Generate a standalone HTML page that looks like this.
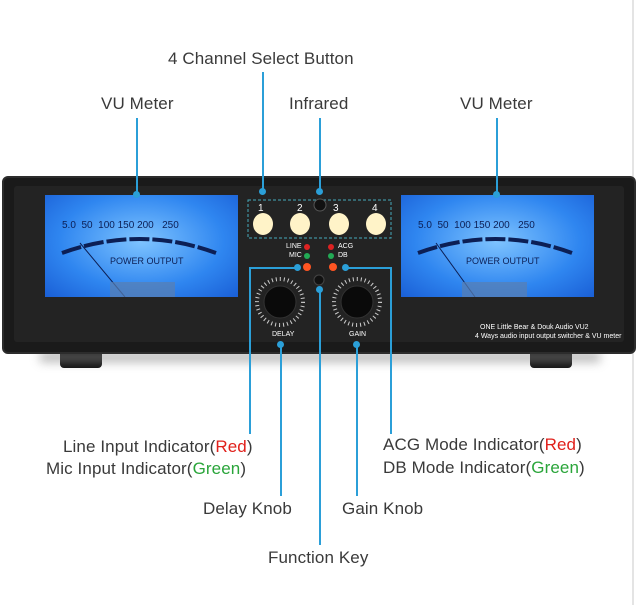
<!DOCTYPE html>
<html><head><style>
body{margin:0;width:640px;height:605px;background:#fff;position:relative;overflow:hidden;font-family:"Liberation Sans",sans-serif}
.t{position:absolute;font-size:17px;color:#3a3a3a;white-space:nowrap;letter-spacing:0.1px}
.r{color:#e0201b}.g{color:#2aa53a}
.l{position:absolute;background:#2b9fd8}
.d{position:absolute;width:7px;height:7px;border-radius:50%;background:#2b9fd8}
.s{position:absolute;color:#fff;font-size:7px;white-space:nowrap}
</style></head><body>
<div style="position:absolute;left:632px;top:0;width:2px;height:605px;background:#e4e4e4"></div>
<div style="position:absolute;left:60px;top:352px;width:42px;height:16px;background:#111;border-radius:0 0 4px 4px"></div>
<div style="position:absolute;left:530px;top:352px;width:42px;height:16px;background:#111;border-radius:0 0 4px 4px"></div>
<div style="position:absolute;left:40px;top:352px;width:560px;height:10px;background:#888;filter:blur(5px);opacity:.6"></div>
<div style="position:absolute;left:2px;top:176px;width:634px;height:178px;background:#1a1a1a;border-radius:6px;border:2px solid #2c2c2c;box-sizing:border-box"></div>
<div style="position:absolute;left:14px;top:186px;width:610px;height:156px;background:#232323;border-radius:3px"></div>
<div style="position:absolute;left:45px;top:195px;width:193px;height:102px;background:radial-gradient(ellipse at 50% 45%,#7fc4ff,#2f86f0 60%,#1a5fd6);"></div>
<div style="position:absolute;left:401px;top:195px;width:193px;height:102px;background:radial-gradient(ellipse at 50% 45%,#7fc4ff,#2f86f0 60%,#1a5fd6);"></div>
<svg style="position:absolute;left:0;top:0" width="640" height="400">
<path d="M62 253 Q140 225 216 253" stroke="#0c1f55" stroke-width="4" fill="none" stroke-dasharray="20 3"/>
<path d="M418 253 Q496 225 572 253" stroke="#0c1f55" stroke-width="4" fill="none" stroke-dasharray="20 3"/>
<line x1="80" y1="243" x2="125" y2="297" stroke="#0c1f55" stroke-width="1"/>
<line x1="436" y1="243" x2="475" y2="297" stroke="#0c1f55" stroke-width="1"/>
<rect x="110" y="282" width="65" height="15" fill="#5a7fb0" opacity=".7"/>
<rect x="462" y="282" width="65" height="15" fill="#5a7fb0" opacity=".7"/>
<rect x="248" y="200" width="143" height="38" fill="none" stroke="#4ab" stroke-dasharray="3 2"/>
<g fill="#fff3c8"><ellipse cx="263" cy="224" rx="10" ry="11"/><ellipse cx="300" cy="224" rx="10" ry="11"/><ellipse cx="339" cy="224" rx="10" ry="11"/><ellipse cx="376" cy="224" rx="10" ry="11"/></g>
<circle cx="320" cy="205" r="6" fill="#111" stroke="#555"/>
<circle cx="307" cy="247" r="3" fill="#d22"/><circle cx="331" cy="247" r="3" fill="#d22"/>
<circle cx="307" cy="256" r="3" fill="#2a5"/><circle cx="331" cy="256" r="3" fill="#2a5"/>
<circle cx="307" cy="267" r="4" fill="#f52"/><circle cx="333" cy="267" r="4" fill="#f52"/>
<circle cx="319" cy="280" r="5" fill="#111" stroke="#444"/>
<circle cx="280" cy="302" r="23" fill="none" stroke="#ccc" stroke-width="4" stroke-dasharray="1 3"/>
<circle cx="357" cy="302" r="23" fill="none" stroke="#ccc" stroke-width="4" stroke-dasharray="1 3"/>
<circle cx="280" cy="302" r="16" fill="#0a0a0a" stroke="#333"/>
<circle cx="357" cy="302" r="16" fill="#0a0a0a" stroke="#333"/>
</svg>
<div class="s" style="left:258px;top:203px;font-size:10px">1</div><div class="s" style="left:297px;top:203px;font-size:10px">2</div><div class="s" style="left:333px;top:203px;font-size:10px">3</div><div class="s" style="left:372px;top:203px;font-size:10px">4</div>
<div class="s" style="left:286px;top:243px">LINE</div><div class="s" style="left:289px;top:252px">MIC</div>
<div class="s" style="left:338px;top:243px">ACG</div><div class="s" style="left:338px;top:252px">DB</div>
<div class="s" style="left:272px;top:331px">DELAY</div><div class="s" style="left:349px;top:331px">GAIN</div>
<div class="s" style="left:480px;top:324px">ONE Little Bear &amp; Douk Audio VU2</div>
<div class="s" style="left:475px;top:333px">4 Ways audio input output switcher &amp; VU meter</div>
<div class="s" style="left:110px;top:256px;color:#0c1f55;font-size:9px">POWER OUTPUT</div>
<div class="s" style="left:466px;top:256px;color:#0c1f55;font-size:9px">POWER OUTPUT</div>
<div class="s" style="left:62px;top:220px;color:#0c1f55;font-size:10px">5.0&nbsp; 50&nbsp; 100 150 200&nbsp;&nbsp; 250</div>
<div class="s" style="left:418px;top:220px;color:#0c1f55;font-size:10px">5.0&nbsp; 50&nbsp; 100 150 200&nbsp;&nbsp; 250</div>
<div class="l" style="left:136px;top:118px;width:2px;height:77px"></div><div class="d" style="left:133px;top:191px"></div>
<div class="l" style="left:496px;top:118px;width:2px;height:77px"></div><div class="d" style="left:493px;top:191px"></div>
<div class="l" style="left:262px;top:72px;width:2px;height:120px"></div><div class="d" style="left:259px;top:188px"></div>
<div class="l" style="left:319px;top:118px;width:2px;height:74px"></div><div class="d" style="left:316px;top:188px"></div>
<div class="l" style="left:249px;top:267px;width:48px;height:2px"></div><div class="l" style="left:249px;top:267px;width:2px;height:167px"></div><div class="d" style="left:294px;top:264px"></div>
<div class="l" style="left:345px;top:267px;width:46px;height:2px"></div><div class="l" style="left:390px;top:267px;width:2px;height:167px"></div><div class="d" style="left:342px;top:264px"></div>
<div class="l" style="left:280px;top:345px;width:2px;height:151px"></div><div class="d" style="left:277px;top:341px"></div>
<div class="l" style="left:356px;top:345px;width:2px;height:151px"></div><div class="d" style="left:353px;top:341px"></div>
<div class="l" style="left:319px;top:290px;width:2px;height:255px"></div><div class="d" style="left:316px;top:286px"></div>
<div class="t" style="left:168px;top:49px">4 Channel Select Button</div>
<div class="t" style="left:101px;top:94px">VU Meter</div>
<div class="t" style="left:289px;top:94px">Infrared</div>
<div class="t" style="left:460px;top:94px">VU Meter</div>
<div class="t" style="left:63px;top:437px">Line Input Indicator(<span class="r">Red</span>)</div>
<div class="t" style="left:46px;top:459px">Mic Input Indicator(<span class="g">Green</span>)</div>
<div class="t" style="left:383px;top:435px">ACG Mode Indicator(<span class="r">Red</span>)</div>
<div class="t" style="left:383px;top:458px">DB Mode Indicator(<span class="g">Green</span>)</div>
<div class="t" style="left:203px;top:499px">Delay Knob</div>
<div class="t" style="left:342px;top:499px">Gain Knob</div>
<div class="t" style="left:268px;top:548px">Function Key</div>
</body></html>
